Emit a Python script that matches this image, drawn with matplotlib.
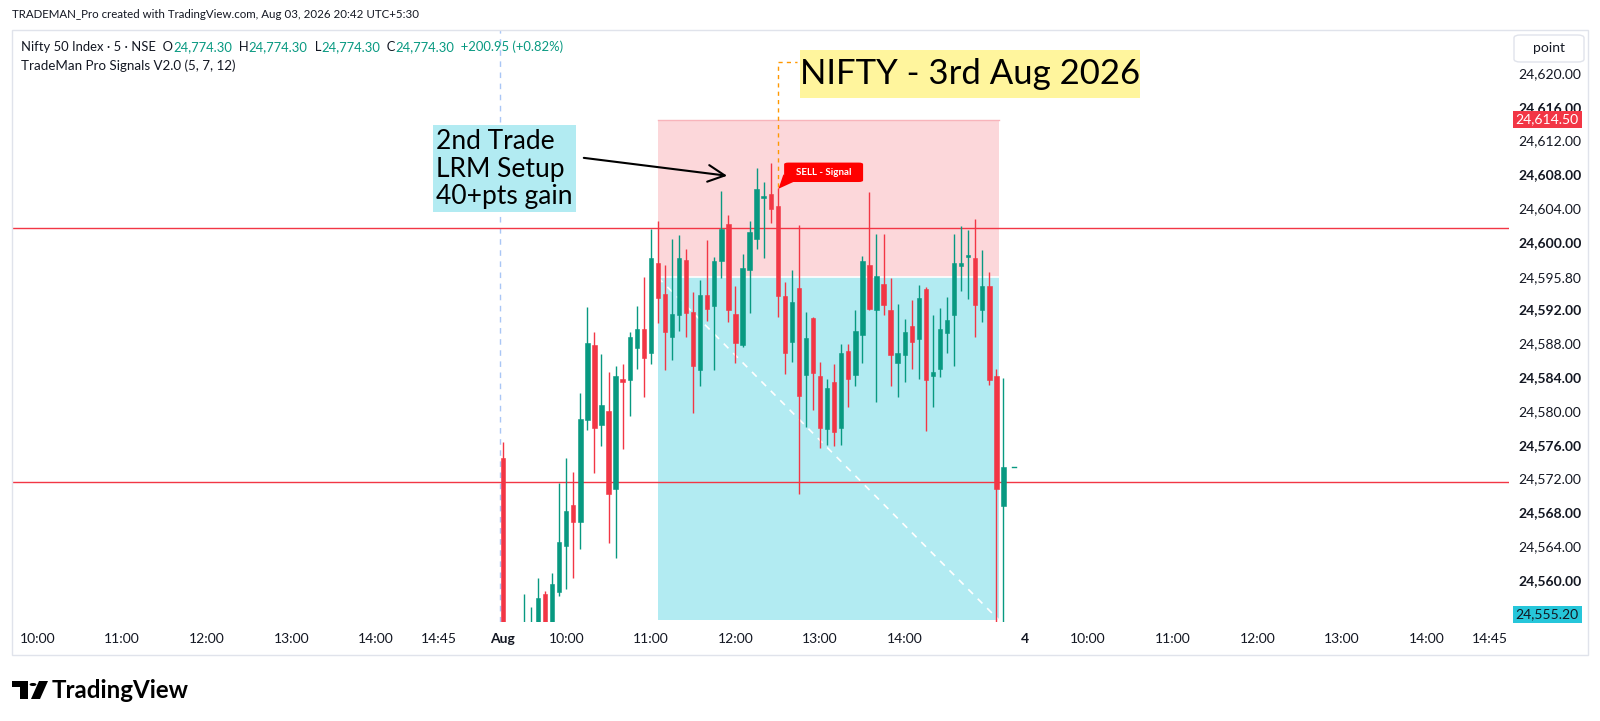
import matplotlib
matplotlib.use("Agg")
import matplotlib.pyplot as plt
from matplotlib.patches import Rectangle, FancyBboxPatch, Polygon, Circle
from matplotlib.transforms import blended_transform_factory

plt.rcParams['font.family'] = ['Lato', 'DejaVu Sans']

W, H = 1600, 721
GREEN = '#089981'
RED = '#F23645'
TXT = '#131722'

# 5 min candles, Aug 3 (bar 0 = 09:15)
opens = [24574.4, 24543.0, 24546.0, 24548.5, 24550.0, 24551.5, 24558.3, 24553.0, 24558.6, 24564.0,
         24568.9, 24566.9, 24578.9, 24587.8, 24578.3, 24580.0, 24570.8, 24583.8, 24583.6, 24587.5,
         24589.7, 24586.8, 24597.5, 24593.8, 24588.7, 24591.3, 24597.9, 24591.7, 24584.8, 24593.7,
         24592.4, 24597.8, 24602.1, 24591.5, 24587.8, 24596.7, 24600.4, 24605.2, 24605.7, 24604.3,
         24593.6, 24588.2, 24594.5, 24584.2, 24591.0, 24584.1, 24577.9, 24583.4, 24578.0, 24587.1,
         24584.2, 24589.0, 24597.3, 24591.9, 24595.0, 24592.0, 24585.7, 24586.6, 24590.0, 24588.5,
         24594.4, 24584.1, 24584.9, 24589.2, 24591.3, 24597.2, 24598.2, 24598.1, 24592.0, 24594.8,
         24584.1, 24568.7]
highs = [24576.3, 24548.0, 24551.0, 24558.3, 24556.8, 24560.2, 24558.7, 24560.8, 24571.5, 24574.4,
         24572.8, 24582.1, 24592.3, 24589.3, 24586.7, 24584.6, 24585.3, 24585.6, 24589.3, 24592.4,
         24595.8, 24601.5, 24602.5, 24597.3, 24600.4, 24600.8, 24599.2, 24594.1, 24595.5, 24600.2,
         24598.2, 24606.0, 24603.2, 24594.8, 24598.6, 24602.5, 24608.7, 24607.1, 24609.4, 24606.4,
         24595.3, 24596.7, 24602.0, 24591.7, 24591.1, 24585.8, 24583.8, 24585.6, 24587.9, 24587.9,
         24592.0, 24598.3, 24605.9, 24600.9, 24601.0, 24595.7, 24592.6, 24590.9, 24593.1, 24594.9,
         24594.7, 24591.4, 24592.2, 24593.5, 24601.0, 24601.9, 24601.4, 24602.7, 24599.1, 24596.5,
         24584.9, 24583.9]
lows = [24540.0, 24538.0, 24542.0, 24545.0, 24547.0, 24549.0, 24550.0, 24551.0, 24558.1, 24558.9,
        24560.2, 24563.7, 24577.7, 24572.7, 24575.8, 24564.3, 24562.6, 24575.5, 24579.4, 24585.0,
        24581.7, 24585.6, 24590.4, 24584.8, 24586.0, 24589.5, 24588.7, 24579.7, 24583.0, 24590.7,
        24584.8, 24595.7, 24590.5, 24585.7, 24587.6, 24591.6, 24599.2, 24598.1, 24602.2, 24591.1,
        24584.4, 24585.8, 24570.1, 24578.1, 24580.1, 24575.6, 24576.0, 24575.8, 24575.9, 24580.5,
        24583.0, 24585.7, 24592.0, 24581.1, 24591.3, 24583.0, 24581.6, 24583.4, 24585.0, 24583.8,
        24577.6, 24580.5, 24584.0, 24586.9, 24585.3, 24594.2, 24593.3, 24588.7, 24590.5, 24583.1,
        24540.0, 24540.0]
closes = [24543.0, 24546.0, 24548.5, 24553.0, 24554.0, 24557.9, 24553.5, 24559.5, 24564.5, 24568.2,
          24566.9, 24579.0, 24588.0, 24578.0, 24580.7, 24570.2, 24584.1, 24583.4, 24588.7, 24589.7,
          24586.3, 24598.1, 24593.4, 24589.3, 24591.5, 24598.1, 24591.6, 24585.3, 24593.7, 24592.1,
          24597.8, 24601.5, 24591.9, 24588.0, 24596.9, 24601.2, 24606.3, 24605.5, 24603.9, 24593.6,
          24586.9, 24592.9, 24581.8, 24588.6, 24584.5, 24578.0, 24582.7, 24577.5, 24586.9, 24583.8,
          24589.5, 24597.7, 24592.1, 24596.0, 24592.5, 24586.6, 24586.8, 24589.3, 24588.2, 24593.4,
          24583.6, 24584.6, 24589.7, 24590.8, 24597.5, 24597.5, 24598.4, 24592.5, 24594.8, 24583.7,
          24570.8, 24573.35]

# time axis labels (bar index relative to Aug 3 09:15)
xtick_pos = [-66, -54, -42, -30, -18, -9, 0, 9, 21, 33, 45, 57, 74, 83, 95, 107, 119, 131, 140]
xtick_lbl = ['10:00', '11:00', '12:00', '13:00', '14:00', '14:45', 'Aug', '10:00', '11:00', '12:00',
             '13:00', '14:00', '4', '10:00', '11:00', '12:00', '13:00', '14:00', '14:45']
bold_x = ['Aug', '4']

# price scale labels
ytick_pos = [24620, 24616, 24612, 24608, 24604, 24600, 24595.8, 24592, 24588, 24584,
             24580, 24576, 24572, 24568, 24564, 24560]
bold_y = [24616, 24608, 24600, 24592, 24584, 24576, 24568, 24560]

# short position tool
entry, stop, target = 24595.8, 24614.5, 24555.2
pos_start, pos_end = 22, 70.4
hlines = [24601.65, 24571.6]
signal_bar = 39


def fpos(x, y):
    return x / W, 1 - y / H


fig = plt.figure(figsize=(16, 7.21), dpi=100)
fig.patch.set_facecolor('white')
ax = fig.add_axes([12 / W, 1 - 622 / H, 1497 / W, 592 / H])
ax.set_xlim(-69.6, 142.7)
ax.set_ylim(24555.0, 24625.1)
for s in ax.spines.values():
    s.set_visible(False)

# position boxes
ax.add_patch(Rectangle((pos_start, entry), pos_end - pos_start, stop - entry,
                       facecolor='#fcd7da', edgecolor='none', zorder=1))
ax.add_patch(Rectangle((pos_start, target), pos_end - pos_start, entry - target,
                       facecolor='#b2ebf2', edgecolor='none', zorder=1))
ax.plot([pos_start, pos_end], [stop, stop], color='#f8b4bb', lw=1, zorder=1.2)
ax.plot([pos_start, pos_end], [entry, entry], color='white', lw=1.2, zorder=1.2)
ax.plot([pos_start, pos_end], [entry, target], color='white', lw=1.2,
        ls=(0, (4, 4)), zorder=1.3)

for hv in hlines:
    ax.axhline(hv, color=RED, lw=1, zorder=1.5)

# session break
ax.axvline(-0.4, color='#a9c6f5', lw=1, ls=(0, (4, 4)), zorder=1.4)

# candles
bw = 0.62
for i in range(len(opens)):
    o, h, l, c = opens[i], highs[i], lows[i], closes[i]
    col = GREEN if c >= o else RED
    ax.plot([i, i], [l, h], color=col, lw=1, zorder=3, solid_capstyle='butt')
    lo, hi = min(o, c), max(o, c)
    ax.add_patch(Rectangle((i - bw / 2, lo), bw, max(hi - lo, 0.12),
                           facecolor=col, edgecolor=col, lw=0.4, zorder=3.1))
ax.plot([len(opens) + 0.2, len(opens) + 0.8], [closes[-1], closes[-1]], color=GREEN, lw=1, zorder=3)

# x axis
ax.set_xticks(xtick_pos)
ax.set_xticklabels(xtick_lbl, fontsize=10, color=TXT)
for t in ax.get_xticklabels():
    if t.get_text() in bold_x:
        t.set_fontweight('bold')
ax.tick_params(axis='x', length=0, pad=8)

# price axis
ax.yaxis.tick_right()
ax.set_yticks(ytick_pos)
ax.set_yticklabels([f'{v:,.2f}' for v in ytick_pos], fontsize=10, color=TXT)
for v, t in zip(ytick_pos, ax.get_yticklabels()):
    if v in bold_y:
        t.set_fontweight('bold')
ax.tick_params(axis='y', length=0, pad=7)

bt = blended_transform_factory(ax.transAxes, ax.transData)
ax.text(1.0255, stop, f'{stop:,.2f}', transform=bt, ha='center', va='center', fontsize=10,
        color='white', clip_on=False, zorder=10,
        bbox=dict(boxstyle='square,pad=0.2', facecolor=RED, edgecolor='none'))
ax.text(1.0255, 24555.9, f'{target:,.2f}', transform=bt, ha='center', va='center', fontsize=10,
        color=TXT, clip_on=False, zorder=10,
        bbox=dict(boxstyle='square,pad=0.2', facecolor='#26c6da', edgecolor='none'))

# annotations
ax.add_patch(Rectangle((-9.9, 24603.5), 20.3, 10.4, facecolor='#b2ebf2', edgecolor='none', zorder=4))
ax.text(-9.5, 24608.6, '2nd Trade\nLRM Setup\n40+pts gain', fontsize=19, color='black',
        ha='left', va='center', linespacing=1.12, zorder=5)
ax.annotate('', xy=(32.2, 24607.8), xytext=(11.1, 24610.0), zorder=5,
            arrowprops=dict(arrowstyle='->,head_length=1.2,head_width=0.6', color='black', lw=1.5))

ax.add_patch(Rectangle((42.1, 24617.1), 48.3, 5.6, facecolor='#fff59d', edgecolor='none',
                       zorder=4, clip_on=False))
ax.text(66.3, 24619.9, 'NIFTY - 3rd Aug 2026', fontsize=25, color='black', ha='center',
        va='center', zorder=5)
ax.plot([signal_bar + 0.1, signal_bar + 0.1, 41.7], [24606.5, 24621.3, 24621.3],
        color='#ff9800', lw=1, ls=(0, (3, 3)), zorder=4)

ax.add_patch(FancyBboxPatch((39.9, 24607.1), 11.2, 2.3, boxstyle='round,pad=0,rounding_size=0.6',
                            mutation_aspect=0.35, facecolor='#ff0000', edgecolor='none', zorder=6))
ax.add_patch(Polygon([(39.8, 24608.0), (41.2, 24607.1), (signal_bar + 0.1, 24606.3)],
                     closed=True, facecolor='#ff0000', edgecolor='none', zorder=6))
ax.text(45.5, 24608.25, 'SELL - Signal', fontsize=7, color='white', fontweight='bold',
        ha='center', va='center', zorder=7)

# frame, header, legend
fig.add_artist(Rectangle(fpos(12, 655), 1576 / W, 625 / H, transform=fig.transFigure,
                         fill=False, edgecolor='#e0e3eb', lw=1))
fig.add_artist(FancyBboxPatch(fpos(1514, 62), 70 / W, 27 / H, transform=fig.transFigure,
                              boxstyle='round,pad=0,rounding_size=0.004',
                              facecolor='white', edgecolor='#e0e3eb', lw=1))
fig.text(*fpos(1549, 48), 'point', fontsize=10, color=TXT, ha='center', va='center')

fig.text(*fpos(12, 14), 'TRADEMAN_Pro created with TradingView.com, Aug 03, 2026 20:42 UTC+5:30',
         fontsize=8.3, color=TXT, va='center')

renderer = fig.canvas.get_renderer()
runs = [('Nifty 50 Index · 5 · NSE  O', TXT), ('24,774.30', GREEN), ('  H', TXT), ('24,774.30', GREEN),
        ('  L', TXT), ('24,774.30', GREEN), ('  C', TXT), ('24,774.30', GREEN),
        ('  +200.95 (+0.82%)', GREEN)]
xp = 21
for s, col in runs:
    t = fig.text(*fpos(xp, 47), s, fontsize=9.4, color=col, va='center')
    xp += t.get_window_extent(renderer).width
fig.text(*fpos(21, 66), 'TradeMan Pro Signals V2.0 (5, 7, 12)', fontsize=9.6, color=TXT, va='center')

# TradingView logo
def fp(pts):
    return [fpos(x, y) for x, y in pts]

ly = 690
fig.add_artist(Polygon(fp([(12, ly - 9), (28, ly - 9), (28, ly + 9), (20, ly + 9), (20, ly - 3), (12, ly - 3)]),
                       closed=True, transform=fig.transFigure, facecolor='black', edgecolor='none'))
fig.add_artist(Circle(fpos(33, ly - 5.5), 3.4 / W, transform=fig.transFigure, facecolor='black'))
fig.add_artist(Polygon(fp([(39, ly - 9), (48, ly - 9), (40, ly + 9), (31, ly + 9)]), closed=True,
                       transform=fig.transFigure, facecolor='black', edgecolor='none'))
fig.text(*fpos(52, ly), 'TradingView', fontsize=17.4, fontweight='bold', color='black', va='center')

fig.savefig('out.png', dpi=100)
